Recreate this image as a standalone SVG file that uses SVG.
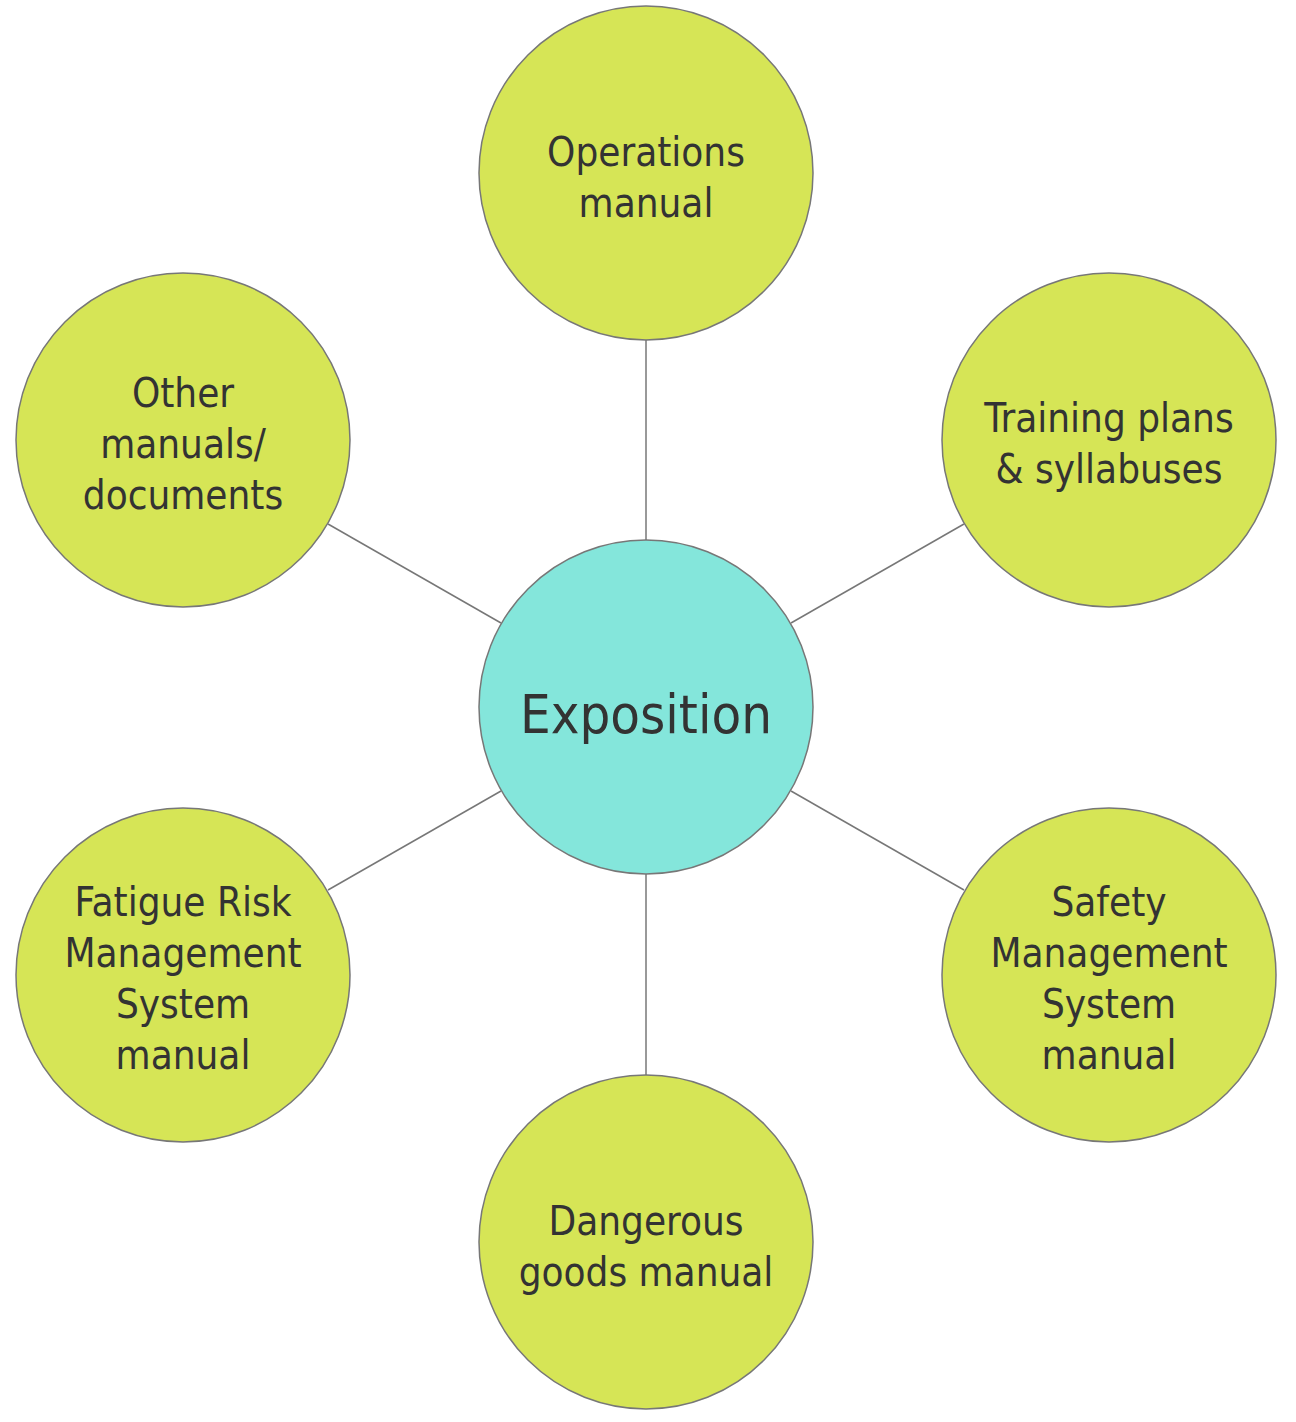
<svg xmlns="http://www.w3.org/2000/svg" width="1296" height="1422" viewBox="0 0 1296 1422">
<style>
.n{fill:#d6e556;stroke:#777;stroke-width:1.5}
.c{fill:#84e6db;stroke:#777;stroke-width:1.5}
.t{font-family:"DejaVu Sans Condensed","DejaVu Sans",sans-serif;font-size:40px;fill:#333;text-anchor:middle}
.big{font-size:54px}
#connectors line{stroke:#777;stroke-width:1.5}
</style>
<rect width="1296" height="1422" fill="#fff"/>
<g id="connectors">
<line x1="646" y1="340" x2="646" y2="540"/>
<line x1="791" y1="623" x2="964" y2="524"/>
<line x1="501" y1="623" x2="328" y2="524"/>
<line x1="791" y1="791" x2="964" y2="890"/>
<line x1="501" y1="791" x2="328" y2="890"/>
<line x1="646" y1="874" x2="646" y2="1075"/>
</g>
<g id="center"><circle class="c" cx="646" cy="707" r="167"/><text class="t big" x="646" y="733">Exposition</text></g>
<g id="operations"><circle class="n" cx="646" cy="173" r="167"/><text class="t" x="646" y="166">Operations</text><text class="t" x="646" y="217">manual</text></g>
<g id="training"><circle class="n" cx="1109" cy="440" r="167"/><text class="t" x="1109" y="432">Training plans</text><text class="t" x="1109" y="483">&amp; syllabuses</text></g>
<g id="other"><circle class="n" cx="183" cy="440" r="167"/><text class="t" x="183" y="407">Other</text><text class="t" x="183" y="458">manuals/</text><text class="t" x="183" y="509">documents</text></g>
<g id="fatigue"><circle class="n" cx="183" cy="975" r="167"/><text class="t" x="183" y="916">Fatigue Risk</text><text class="t" x="183" y="967">Management</text><text class="t" x="183" y="1018">System</text><text class="t" x="183" y="1069">manual</text></g>
<g id="safety"><circle class="n" cx="1109" cy="975" r="167"/><text class="t" x="1109" y="916">Safety</text><text class="t" x="1109" y="967">Management</text><text class="t" x="1109" y="1018">System</text><text class="t" x="1109" y="1069">manual</text></g>
<g id="dangerous"><circle class="n" cx="646" cy="1242" r="167"/><text class="t" x="646" y="1235">Dangerous</text><text class="t" x="646" y="1286">goods manual</text></g>
</svg>
